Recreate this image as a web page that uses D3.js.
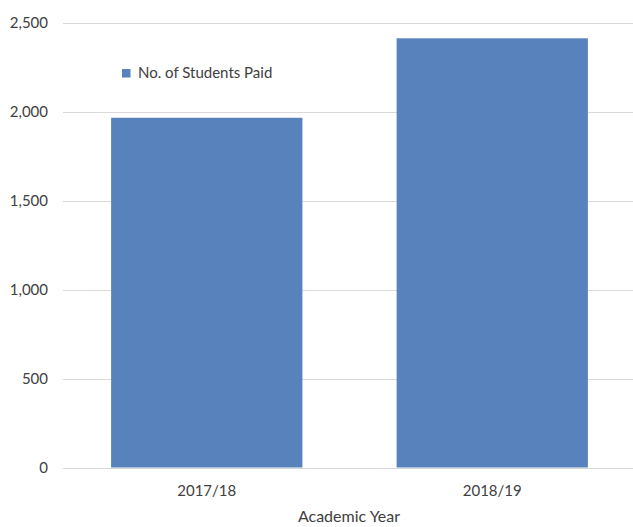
<!DOCTYPE html>
<html>
<head>
<meta charset="utf-8">
<script src="https://cdn.jsdelivr.net/npm/d3@7"></script>
<style>
  body { margin: 0; background: #fff; }
  text { font-family: Lato, "Open Sans", sans-serif; fill: #404040; }
</style>
</head>
<body>
<svg id="chart" width="633" height="527"></svg>
<script>
// DATA
const years = ["2017/18", "2018/19"];
const studentsPaid = [1967, 2414];
const yTicks = [0, 500, 1000, 1500, 2000, 2500];
const seriesName = "No. of Students Paid";
const xTitle = "Academic Year";

// CANVAS SETUP
const svg = d3.select("#chart");
const margin = { top: 23, right: 0, bottom: 60, left: 63 };
const height = +svg.attr("height");

const x = d3.scaleBand()
  .domain(years)
  .range([64, 635])
  .paddingInner(0.33)
  .paddingOuter(0.165);

const y = d3.scaleLinear()
  .domain([0, 2500])
  .range([467.5, margin.top]);

// gridlines
svg.append("g")
  .selectAll("line")
  .data(yTicks)
  .join("line")
  .attr("x1", margin.left)
  .attr("x2", 633)
  .attr("y1", (d) => Math.round(y(d)) + 0.5)
  .attr("y2", (d) => Math.round(y(d)) + 0.5)
  .attr("stroke", "#d9d9d9")
  .attr("stroke-width", 1);

// y axis labels
svg.append("g")
  .selectAll("text")
  .data(yTicks)
  .join("text")
  .attr("x", 48)
  .attr("y", (d) => y(d) + 5)
  .attr("text-anchor", "end")
  .style("font-size", "15px")
  .text((d) => d3.format(",")(d));

// bars
svg.append("g")
  .selectAll("rect")
  .data(years.map((d, i) => ({ year: d, value: studentsPaid[i] })))
  .join("rect")
  .attr("x", (d) => x(d.year))
  .attr("y", (d) => y(d.value))
  .attr("width", x.bandwidth())
  .attr("height", (d) => y(0) - y(d.value))
  .attr("fill", "#5882bc");

// x labels
svg.append("g")
  .selectAll("text")
  .data(years)
  .join("text")
  .attr("x", (d) => x(d) + x.bandwidth() / 2)
  .attr("y", 496)
  .attr("text-anchor", "middle")
  .style("font-size", "15px")
  .text((d) => d);

svg.append("text")
  .attr("x", 349)
  .attr("y", 522)
  .attr("text-anchor", "middle")
  .style("font-size", "16px")
  .text(xTitle);

// legend
const legend = svg.append("g").attr("transform", "translate(122,69)");
legend.append("rect")
  .attr("width", 8.5)
  .attr("height", 8.5)
  .attr("fill", "#5882bc");
legend.append("text")
  .attr("x", 16)
  .attr("y", 9)
  .style("font-size", "15px")
  .text(seriesName);
</script>
</body>
</html>
